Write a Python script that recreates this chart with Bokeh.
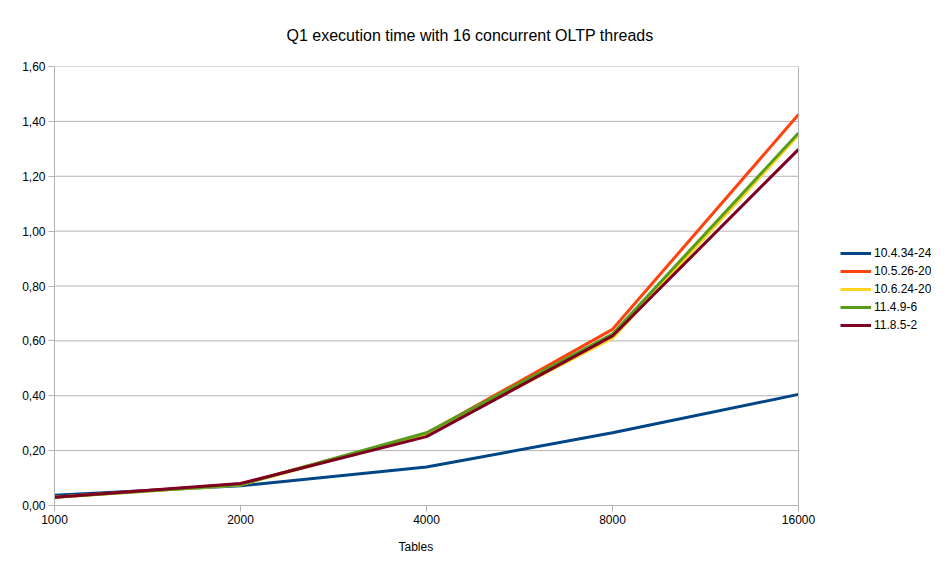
from bokeh.plotting import figure
from bokeh.models import FixedTicker, CustomJSTickFormatter, Legend, LegendItem, Span, Title
from bokeh.embed import file_html
from bokeh.resources import INLINE

tables = [1000, 2000, 4000, 8000, 16000]
series_names = ["10.4.34-24", "10.5.26-20", "10.6.24-20", "11.4.9-6", "11.8.5-2"]
v_10_4 = [0.037, 0.072, 0.140, 0.265, 0.405]
v_10_5 = [0.030, 0.078, 0.262, 0.642, 1.425]
v_10_6 = [0.030, 0.075, 0.258, 0.610, 1.350]
v_11_4 = [0.030, 0.076, 0.265, 0.625, 1.358]
v_11_8 = [0.030, 0.080, 0.251, 0.618, 1.298]
y_ticks = [0, 0.2, 0.4, 0.6, 0.8, 1.0, 1.2, 1.4, 1.6]
colors = ["#004586", "#ff420e", "#ffd320", "#579d1c", "#7e0021"]
FONT = "Liberation Sans"
GRID = "#b3b3b3"

# plot area: 744 px for 1000..16000, plus 133 px of room on the right for the legend
PX_PER_DOUBLING = 744 / 4
x_end = tables[-1] * 2 ** (133 / PX_PER_DOUBLING)

p = figure(frame_width=877, frame_height=439, x_axis_type="log",
           x_range=(tables[0], x_end), y_range=(y_ticks[0], y_ticks[-1]),
           output_backend="svg", toolbar_location=None,
           min_border_left=54, min_border_right=0, min_border_top=66, min_border_bottom=56)
p.background_fill_color = "white"
p.border_fill_color = "white"
p.outline_line_color = None

p.title.text = "Q1 execution time with 16 concurrent OLTP threads"
p.title.align = "left"
p.title.offset = 232
p.title.standoff = 45
p.title.text_font = FONT
p.title.text_font_size = "16px"
p.title.text_font_style = "normal"
p.title.text_color = "black"

# horizontal grid lines only across the data area
p.xgrid.visible = False
p.ygrid.visible = False
p.segment(x0=[tables[0]] * len(y_ticks), x1=[tables[-1]] * len(y_ticks),
          y0=y_ticks, y1=y_ticks, line_color=GRID, line_width=1)
p.add_layout(Span(location=tables[-1], dimension="height", line_color=GRID, line_width=1))

items = []
for name, vals, c in zip(series_names, [v_10_4, v_10_5, v_10_6, v_11_4, v_11_8], colors):
    r = p.line(tables, vals, line_color=c, line_width=3)
    items.append(LegendItem(label=name, renderers=[r]))

p.xaxis.ticker = FixedTicker(ticks=tables, minor_ticks=[])
p.xaxis.formatter = CustomJSTickFormatter(code="return tick.toFixed(0);")
p.xaxis.bounds = (tables[0], tables[-1])
p.yaxis.ticker = FixedTicker(ticks=y_ticks, minor_ticks=[])
p.yaxis.formatter = CustomJSTickFormatter(code="return tick.toFixed(2).replace('.', ',');")
for ax in [p.xaxis[0], p.yaxis[0]]:
    ax.axis_line_color = GRID
    ax.major_tick_line_color = GRID
    ax.minor_tick_line_color = None
    ax.major_tick_in = 0
    ax.major_tick_out = 6
    ax.major_label_text_font = FONT
    ax.major_label_text_font_size = "12px"
    ax.major_label_text_color = "black"
    ax.major_label_standoff = 3

# x-axis title, centred under the data area (not under the legend room)
p.add_layout(Title(text="Tables", align="left", offset=344, standoff=23,
                   text_font=FONT, text_font_size="12px", text_font_style="normal",
                   text_color="black"), "below")

legend = Legend(items=items, location=(786, 171), padding=0, margin=0, spacing=0,
                label_height=18, glyph_height=18, glyph_width=31, label_standoff=3,
                label_text_font=FONT, label_text_font_size="12px", label_text_color="black",
                border_line_color=None, background_fill_alpha=0)
p.add_layout(legend, "center")

open("out.html", "w").write(file_html(p, INLINE))
